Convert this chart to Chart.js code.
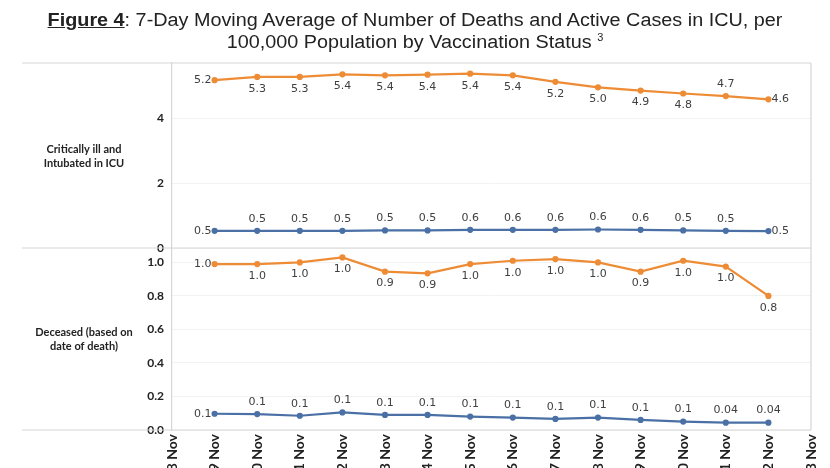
<!DOCTYPE html>
<html>
<head>
<meta charset="utf-8">
<script src="https://cdn.jsdelivr.net/npm/chart.js@4/dist/chart.umd.min.js"></script>
<style>
  html, body { margin: 0; padding: 0; background: #fff; }
  #wrap { position: relative; width: 830px; height: 468px; overflow: hidden; }
  #chart { position: absolute; left: 0; top: 0; }
  #title {
    position: absolute; left: 0; top: 9px; width: 830px; text-align: center;
    font-family: "Liberation Sans", Arial, sans-serif; font-size: 18px; line-height: 22px; color: #222;
    transform: scaleX(1.1); transform-origin: 415px 0;
  }
  #title b { text-decoration: underline; }
  #title sup { font-size: 10px; vertical-align: 7px; line-height: 0; }
</style>
</head>
<body>
<div id="wrap">
  <canvas id="chart" width="830" height="468"></canvas>
  <div id="title"><b>Figure 4</b>: 7-Day Moving Average of Number of Deaths and Active Cases in ICU, per<br>100,000 Population by Vaccination Status <sup>3</sup></div>
</div>
<script>
const days = ["8 Nov", "9 Nov", "10 Nov", "11 Nov", "12 Nov", "13 Nov", "14 Nov", "15 Nov",
  "16 Nov", "17 Nov", "18 Nov", "19 Nov", "20 Nov", "21 Nov", "22 Nov", "23 Nov"];

// top row: critically ill and intubated in ICU
const icuOrange = [null, 5.17, 5.27, 5.27, 5.35, 5.32, 5.34, 5.37, 5.32, 5.12, 4.95, 4.85, 4.76, 4.68, 4.58, null];
const icuBlue = [null, 0.53, 0.53, 0.53, 0.53, 0.54, 0.54, 0.56, 0.56, 0.56, 0.57, 0.56, 0.54, 0.53, 0.52, null];
const icuOrangeText = ["", "5.2", "5.3", "5.3", "5.4", "5.4", "5.4", "5.4", "5.4", "5.2", "5.0", "4.9", "4.8", "4.7", "4.6", ""];
const icuBlueText = ["", "0.5", "0.5", "0.5", "0.5", "0.5", "0.5", "0.6", "0.6", "0.6", "0.6", "0.6", "0.5", "0.5", "0.5", ""];

// bottom row: deceased
const deathOrange = [null, 0.99, 0.99, 1.0, 1.03, 0.945, 0.935, 0.99, 1.01, 1.02, 1.0, 0.945, 1.01, 0.975, 0.8, null];
const deathBlue = [null, 0.097, 0.095, 0.085, 0.105, 0.09, 0.09, 0.08, 0.074, 0.066, 0.074, 0.06, 0.05, 0.044, 0.044, null];
const deathOrangeText = ["", "1.0", "1.0", "1.0", "1.0", "0.9", "0.9", "1.0", "1.0", "1.0", "1.0", "0.9", "1.0", "1.0", "0.8", ""];
const deathBlueText = ["", "0.1", "0.1", "0.1", "0.1", "0.1", "0.1", "0.1", "0.1", "0.1", "0.1", "0.1", "0.1", "0.04", "0.04", ""];

// where each value label sits: l = left, r = right, a = above, b = below
const icuOrangePos = ["", "l", "b", "b", "b", "b", "b", "b", "b", "b", "b", "b", "b", "a", "r", ""];
const icuBluePos = ["", "l", "a", "a", "a", "a", "a", "a", "a", "a", "a", "a", "a", "a", "r", ""];
const deathOrangePos = ["", "l", "b", "b", "b", "b", "b", "b", "b", "b", "b", "b", "b", "b", "b", ""];
const deathBluePos = ["", "l", "a", "a", "a", "a", "a", "a", "a", "a", "a", "a", "a", "a", "a", ""];

const rowLabels = [["Critically ill and", "Intubated in ICU"], ["Deceased (based on", "date of death)"]];

const ORANGE = "#EE8C36";
const BLUE = "#4A70A6";
const FRAME = "#d6d6d6";

const line = (data, color, axis, text, pos) => ({
  data: data,
  borderColor: color,
  backgroundColor: color,
  borderWidth: 2.2,
  pointRadius: 2,
  pointHoverRadius: 2,
  tension: 0,
  yAxisID: axis,
  valueText: text,
  valuePos: pos
});

const frame = {
  id: "frame",
  beforeDatasetsDraw(chart) {
    const c = chart.ctx;
    const a = chart.chartArea;
    const mid = chart.scales.yTop.bottom;
    c.save();
    c.strokeStyle = FRAME;
    c.lineWidth = 1.2;
    c.beginPath();
    [a.top, mid, a.bottom].forEach((y) => {
      c.moveTo(22, y);
      c.lineTo(a.right, y);
    });
    c.moveTo(a.right, a.top);
    c.lineTo(a.right, a.bottom);
    c.stroke();
    c.restore();
  },
  afterDraw(chart) {
    const c = chart.ctx;
    c.save();
    c.fillStyle = "#222";
    c.font = "bold 11px Lato";
    c.textAlign = "center";
    c.textBaseline = "middle";
    [156, 339].forEach((cy, i) => {
      c.fillText(rowLabels[i][0], 84, cy - 7);
      c.fillText(rowLabels[i][1], 84, cy + 7);
    });
    c.restore();
  }
};

const valueLabels = {
  id: "valueLabels",
  afterDatasetsDraw(chart) {
    const c = chart.ctx;
    c.save();
    c.font = '11px "DejaVu Sans"';
    c.fillStyle = "#404040";
    c.textBaseline = "middle";
    chart.data.datasets.forEach((ds, di) => {
      chart.getDatasetMeta(di).data.forEach((pt, i) => {
        const t = ds.valueText[i];
        if (!t) return;
        const p = ds.valuePos[i];
        let x = pt.x, y = pt.y;
        if (p === "l") { c.textAlign = "right"; x -= 3; }
        else if (p === "r") { c.textAlign = "left"; x += 3; }
        else { c.textAlign = "center"; y += p === "a" ? -12 : 12; }
        c.fillText(t, x, y);
      });
    });
    c.restore();
  }
};

new Chart(document.getElementById("chart"), {
  type: "line",
  data: {
    labels: days,
    datasets: [
      line(icuOrange, ORANGE, "yTop", icuOrangeText, icuOrangePos),
      line(icuBlue, BLUE, "yTop", icuBlueText, icuBluePos),
      line(deathOrange, ORANGE, "yBot", deathOrangeText, deathOrangePos),
      line(deathBlue, BLUE, "yBot", deathBlueText, deathBluePos)
    ]
  },
  options: {
    responsive: false,
    animation: false,
    layout: { padding: { top: 63, right: 19, left: 0, bottom: 0 } },
    plugins: { legend: { display: false }, tooltip: { enabled: false } },
    scales: {
      x: {
        type: "category",
        offset: false,
        grid: { display: false },
        border: { display: false },
        ticks: {
          autoSkip: false, maxRotation: 90, minRotation: 90, padding: -4,
          color: "#222", font: { family: "Lato", size: 14, weight: "bold" }
        },
        afterFit: (s) => { s.height = 38; }
      },
      yTop: {
        type: "linear", position: "left", stack: "rows", stackWeight: 185, weight: 2,
        min: 0, max: 5.7,
        grid: { drawTicks: false, color: "#f2f2f2" },
        border: { display: true, color: FRAME, width: 1.2 },
        ticks: {
          stepSize: 2, padding: 8, color: "#222", includeBounds: false,
          font: { family: "Lato", size: 12, weight: "bold" },
          callback: (v) => String(v)
        },
        afterFit: (s) => { s.width = 172; }
      },
      yBot: {
        type: "linear", position: "left", stack: "rows", stackWeight: 182, weight: 1,
        min: 0, max: 1.086,
        grid: { drawTicks: false, color: "#f2f2f2" },
        border: { display: true, color: FRAME, width: 1.2 },
        ticks: {
          stepSize: 0.2, padding: 8, color: "#222", includeBounds: false,
          font: { family: "Lato", size: 12, weight: "bold" },
          callback: (v) => v.toFixed(1)
        },
        afterFit: (s) => { s.width = 172; }
      }
    }
  },
  plugins: [frame, valueLabels]
});
</script>
</body>
</html>
